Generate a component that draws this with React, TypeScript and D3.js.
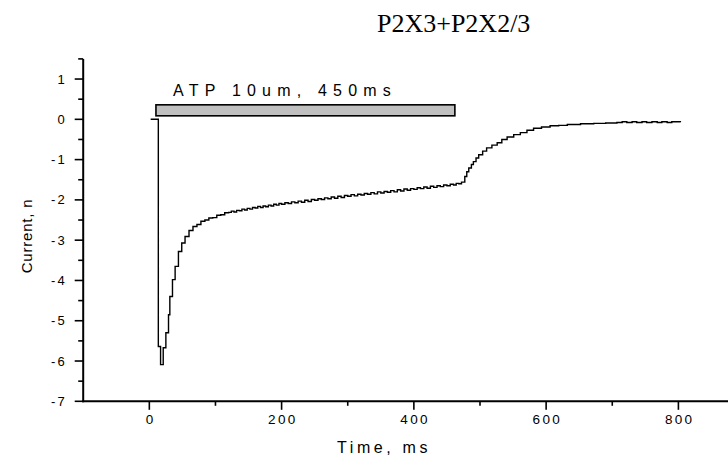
import React from "react";
import * as d3 from "d3";

const timeMs = [2, 13.6, 17, 21, 25, 29, 31, 35, 39, 44, 49, 54, 60, 66, 72, 78, 84, 90, 96, 102, 108, 114, 120, 124, 128, 132, 136, 140, 144, 148, 152, 156, 160, 164, 168, 172, 176, 180, 184, 188, 192, 196, 200, 205, 210, 215, 220, 225, 230, 235, 240, 245, 250, 255, 260, 265, 270, 275, 280, 285, 290, 295, 300, 305, 310, 315, 320, 325, 330, 335, 340, 345, 350, 355, 360, 365, 370, 375, 380, 385, 390, 395, 400, 405, 410, 415, 420, 425, 430, 435, 440, 445, 450, 455, 460, 464, 468, 472, 477, 480, 483, 487, 490, 494, 498, 504, 510, 518, 526, 533, 541, 551, 561, 571, 581, 593, 606, 619, 632, 652, 672, 690, 707, 715, 722, 730, 737, 745, 752, 760, 768, 775, 783, 790, 803];
const currentNa = [0, -5.64, -6.09, -5.67, -5.3, -4.85, -4.4, -3.98, -3.65, -3.28, -3.07, -2.91, -2.76, -2.66, -2.61, -2.53, -2.5, -2.45, -2.44, -2.38, -2.37, -2.32, -2.31, -2.28, -2.3, -2.26, -2.27, -2.23, -2.25, -2.21, -2.23, -2.19, -2.2, -2.16, -2.19, -2.15, -2.17, -2.13, -2.15, -2.11, -2.13, -2.09, -2.11, -2.07, -2.09, -2.05, -2.07, -2.03, -2.06, -2.01, -2.04, -1.99, -2.01, -1.97, -1.99, -1.95, -1.97, -1.93, -1.96, -1.91, -1.94, -1.89, -1.91, -1.87, -1.9, -1.86, -1.88, -1.84, -1.86, -1.82, -1.85, -1.8, -1.83, -1.79, -1.81, -1.77, -1.8, -1.75, -1.78, -1.73, -1.76, -1.72, -1.74, -1.7, -1.72, -1.68, -1.71, -1.66, -1.69, -1.65, -1.67, -1.63, -1.65, -1.61, -1.63, -1.59, -1.6, -1.56, -1.42, -1.3, -1.21, -1.12, -1.05, -0.96, -0.88, -0.79, -0.71, -0.64, -0.58, -0.5, -0.44, -0.38, -0.33, -0.27, -0.22, -0.19, -0.16, -0.15, -0.13, -0.11, -0.1, -0.09, -0.08, -0.06, -0.08, -0.06, -0.08, -0.06, -0.08, -0.06, -0.08, -0.06, -0.08, -0.06, -0.07];

const xMajorTicks = [0, 200, 400, 600, 800];
const xMinorTicks = [100, 300, 500, 700];
const yMajorTicks = [-7, -6, -5, -4, -3, -2, -1, 0, 1];
const yMinorTicks = [-6.5, -5.5, -4.5, -3.5, -2.5, -1.5, -0.5, 0.5, 1.5];

const stimStart = 10;
const stimEnd = 462;
const stimLow = 0.087;
const stimHigh = 0.36;
const stimLabel = "ATP 10um, 450ms";
const title = "P2X3+P2X2/3";
const xTitle = "Time, ms";
const yTitle = "Current, n";

export default function App() {
  const W = 728;
  const H = 456;
  const x = d3.scaleLinear().domain([-100, 875]).range([83.2, 728]);
  const y = d3.scaleLinear().domain([-7, 1.5]).range([401.3, 58.9]);
  const pts: [number, number][] = timeMs.map((t, i) => [t, currentNa[i]]);
  const line = d3
    .line<[number, number]>()
    .x((d) => x(d[0]))
    .y((d) => y(d[1]))
    .curve(d3.curveStepAfter);
  const axisFont = "Arial, 'Liberation Sans', sans-serif";
  const x0 = x(-100);
  const yBottom = y(-7);
  return (
    <svg
      width={W}
      height={H}
      style={{ position: "absolute", left: 0, top: 0, background: "#fff" }}
    >
      <rect x={0} y={0} width={W} height={H} fill="#fff" />
      <text
        x={377}
        y={31.5}
        fontFamily="'Liberation Serif', 'Times New Roman', serif"
        fontSize={26}
        fill="#000"
      >
        {title}
      </text>
      <rect
        x={x(stimStart)}
        y={y(stimHigh)}
        width={x(stimEnd) - x(stimStart)}
        height={y(stimLow) - y(stimHigh)}
        fill="#c0c0c0"
        stroke="#000"
        strokeWidth={1.6}
      />
      <text
        x={173}
        y={96}
        fontFamily={axisFont}
        fontSize={16}
        style={{ letterSpacing: "6.2px" }}
        fill="#000"
      >
        {stimLabel}
      </text>
      <path d={line(pts) || ""} fill="none" stroke="#000" strokeWidth={1.4} />
      <line x1={x0} x2={x0} y1={y(1.5)} y2={yBottom + 1} stroke="#000" strokeWidth={2} />
      <line x1={x0 - 1} x2={W} y1={yBottom} y2={yBottom} stroke="#000" strokeWidth={2} />
      {yMajorTicks.map((v) => (
        <g key={"ym" + v}>
          <line x1={x0 - 8.5} x2={x0} y1={y(v)} y2={y(v)} stroke="#000" strokeWidth={1.6} />
          <text
            x={67}
            y={y(v) + 4.6}
            textAnchor="end"
            fontFamily={axisFont}
            fontSize={13}
            style={{ letterSpacing: "2.2px" }}
            fill="#000"
          >
            {String(v)}
          </text>
        </g>
      ))}
      {yMinorTicks.map((v) => (
        <line key={"yn" + v} x1={x0 - 5} x2={x0} y1={y(v)} y2={y(v)} stroke="#000" strokeWidth={1.6} />
      ))}
      {xMajorTicks.map((v) => (
        <g key={"xm" + v}>
          <line x1={x(v)} x2={x(v)} y1={yBottom} y2={yBottom + 8.5} stroke="#000" strokeWidth={1.6} />
          <text
            x={x(v) + 1.2}
            y={424.3}
            textAnchor="middle"
            fontFamily={axisFont}
            fontSize={13.5}
            style={{ letterSpacing: "2.3px" }}
            fill="#000"
          >
            {String(v)}
          </text>
        </g>
      ))}
      {xMinorTicks.map((v) => (
        <line key={"xn" + v} x1={x(v)} x2={x(v)} y1={yBottom} y2={yBottom + 4.5} stroke="#000" strokeWidth={1.6} />
      ))}
      <text
        x={384}
        y={452.5}
        textAnchor="middle"
        fontFamily={axisFont}
        fontSize={16}
        style={{ letterSpacing: "3.6px" }}
        fill="#000"
      >
        {xTitle}
      </text>
      <text
        transform={`translate(32,236) rotate(-90)`}
        textAnchor="middle"
        fontFamily={axisFont}
        fontSize={15}
        style={{ letterSpacing: "0.8px" }}
        fill="#000"
      >
        {yTitle}
      </text>
    </svg>
  );
}
